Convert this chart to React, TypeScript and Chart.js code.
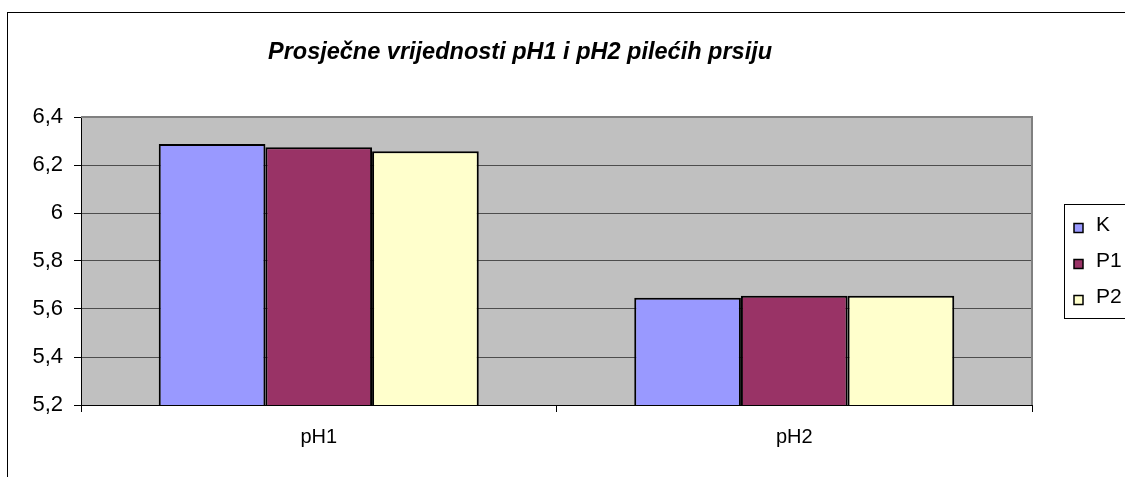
import React, { useEffect, useRef } from "react";
import { Chart, registerables } from "chart.js";

Chart.register(...registerables);

const categories = ["pH1", "pH2"];
const seriesNames = ["K", "P1", "P2"];
const valuesK = [6.288, 5.647];
const valuesP1 = [6.274, 5.655];
const valuesP2 = [6.257, 5.655];
const seriesColors = ["#9999FF", "#993366", "#FFFFCC"];
const titleText = "Prosječne vrijednosti pH1 i pH2 pilećih prsiju";
const yMin = 5.2;
const yMax = 6.4;
const yStep = 0.2;

const FONT = "'Liberation Sans', Arial, sans-serif";

const decor = {
  id: "decor",
  beforeDraw(chart: any) {
    const { ctx, chartArea } = chart;
    ctx.save();
    ctx.fillStyle = "#FFFFFF";
    ctx.fillRect(0, 0, chart.width, chart.height);
    ctx.strokeStyle = "#000000";
    ctx.lineWidth = 1;
    ctx.strokeRect(7.5, 12.5, 1200, 600);
    ctx.fillStyle = "#C0C0C0";
    ctx.fillRect(chartArea.left, chartArea.top, chartArea.right - chartArea.left, chartArea.bottom - chartArea.top);
    ctx.restore();
  },
  afterDraw(chart: any) {
    const { ctx, chartArea } = chart;
    ctx.save();
    // plot area border (top/right)
    ctx.strokeStyle = "#808080";
    ctx.lineWidth = 2;
    ctx.beginPath();
    ctx.moveTo(chartArea.left, chartArea.top);
    ctx.lineTo(chartArea.right, chartArea.top);
    ctx.lineTo(chartArea.right, chartArea.bottom);
    ctx.stroke();
    // title
    ctx.fillStyle = "#000000";
    ctx.font = `italic bold 23.5px ${FONT}`;
    ctx.textAlign = "center";
    ctx.textBaseline = "middle";
    ctx.fillText(titleText, 520, 53);
    // legend
    ctx.strokeStyle = "#000000";
    ctx.lineWidth = 1;
    ctx.strokeRect(1064.5, 204.5, 100, 114);
    const ys = [225, 261, 297];
    chart.data.datasets.forEach((ds: any, i: number) => {
      const y = ys[i];
      ctx.fillStyle = ds.backgroundColor;
      ctx.fillRect(1074, y - 1.5, 9, 9);
      ctx.strokeStyle = "#000";
      ctx.lineWidth = 1.5;
      ctx.strokeRect(1074, y - 1.5, 9, 9);
      ctx.fillStyle = "#000";
      ctx.font = `21px ${FONT}`;
      ctx.textAlign = "left";
      ctx.textBaseline = "middle";
      ctx.fillText(ds.label, 1096, y);
    });
    ctx.restore();
  },
};

export default function App() {
  const ref = useRef<HTMLCanvasElement>(null);
  useEffect(() => {
    if (!ref.current) return;
    const seriesValues = [valuesK, valuesP1, valuesP2];
    const chart = new Chart(ref.current, {
      type: "bar",
      data: {
        labels: categories,
        datasets: seriesNames.map((name, i) => ({
          label: name,
          data: seriesValues[i],
          backgroundColor: seriesColors[i],
          borderColor: "#000000",
          borderWidth: 2,
          borderSkipped: false,
          barPercentage: 1,
          categoryPercentage: 0.673,
        })),
      },
      options: {
        responsive: false,
        animation: false,
        layout: { padding: { left: 0, top: 117, right: 93, bottom: 0 } },
        plugins: {
          legend: { display: false },
          title: { display: false },
          tooltip: { enabled: false },
        },
        scales: {
          x: {
            offset: true,
            grid: {
              offset: true,
              drawOnChartArea: false,
              drawTicks: true,
              tickLength: 7,
              tickColor: "#000000",
            },
            border: { color: "#000000", width: 1 },
            ticks: { color: "#000000", font: { family: FONT, size: 20 }, padding: 13 },
            afterFit: (s: any) => {
              s.height = 72;
            },
          },
          y: {
            min: yMin,
            max: yMax,
            grid: { color: "#4d4d4d", tickColor: "#000000", tickLength: 7, lineWidth: 1 },
            border: { color: "#000000", width: 1 },
            ticks: {
              stepSize: yStep,
              color: "#000000",
              font: { family: FONT, size: 22 },
              padding: 11,
              callback: (v: any) => String(Number(Number(v).toFixed(1))).replace(".", ","),
            },
            afterFit: (s: any) => {
              s.width = 81;
            },
          },
        },
      },
      plugins: [decor],
    });
    return () => chart.destroy();
  }, []);
  return (
    <div style={{ position: "fixed", left: 0, top: 0, width: 1125, height: 477 }}>
      <canvas ref={ref} width={1125} height={477} style={{ display: "block" }} />
    </div>
  );
}
